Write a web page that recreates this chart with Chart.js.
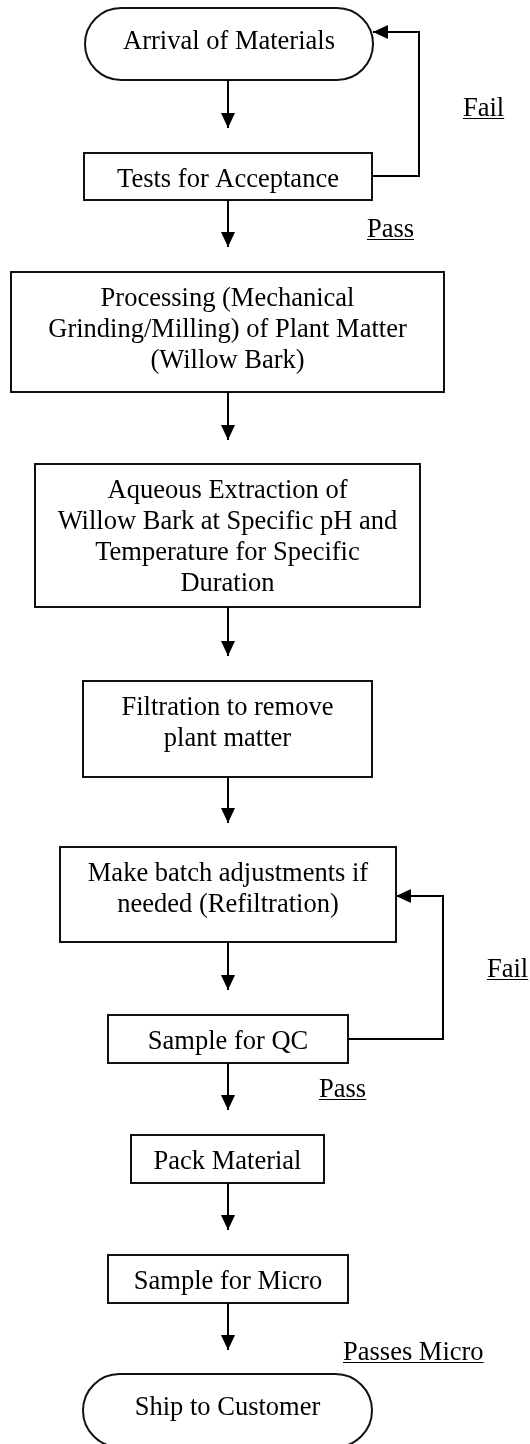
<!DOCTYPE html>
<html>
<head>
<meta charset="utf-8">
<script src="https://cdn.jsdelivr.net/npm/chart.js@4.4.1/dist/chart.umd.min.js"></script>
<style>
  html, body { margin: 0; padding: 0; background: #fff; }
  #wrap { width: 530px; height: 1444px; }
</style>
</head>
<body>
<div id="wrap"><canvas id="flow" width="530" height="1444"></canvas></div>
<script>
// flowchart steps, top to bottom (chart units = picture px)
const nodeText = [
  ['Arrival of Materials'],
  ['Tests for Acceptance'],
  ['Processing (Mechanical', 'Grinding/Milling) of Plant Matter', '(Willow Bark)'],
  ['Aqueous Extraction of', 'Willow Bark at Specific pH and', 'Temperature for Specific', 'Duration'],
  ['Filtration to remove', 'plant matter'],
  ['Make batch adjustments if', 'needed (Refiltration)'],
  ['Sample for QC'],
  ['Pack Material'],
  ['Sample for Micro'],
  ['Ship to Customer']
];
const nodeShape = ['terminal', 'process', 'process', 'process', 'process',
                   'process', 'process', 'process', 'process', 'terminal'];
const nodeLeft   = [85, 84, 11, 35, 83, 60, 108, 131, 108, 83];
const nodeRight  = [373, 372, 444, 420, 372, 396, 348, 324, 348, 372];
const nodeTop    = [8, 153, 272, 464, 681, 847, 1015, 1135, 1255, 1374];
const nodeBottom = [80, 200, 392, 607, 777, 942, 1063, 1183, 1303, 1447];

// connectors: each is a polyline ending in an arrow tip
const spineX = 228;
const spineFrom = [80, 200, 392, 607, 777, 942, 1063, 1183, 1303];
const spineTo   = [128, 247, 440, 656, 823, 990, 1110, 1230, 1350];
const loopFail1 = [{ x: 372, y: 176 }, { x: 419, y: 176 }, { x: 419, y: 32 }, { x: 373, y: 32 }];
const loopFail2 = [{ x: 348, y: 1039 }, { x: 443, y: 1039 }, { x: 443, y: 896 }, { x: 396, y: 896 }];

// branch labels
const branchText = ['Fail', 'Pass', 'Fail', 'Pass', 'Passes Micro'];
const branchX    = [463, 367, 487, 319, 343];
const branchY    = [116, 237, 977, 1097, 1360];

const FONT = '26.5px "Liberation Serif", "Times New Roman", serif';
const INK = '#000';

const connectors = spineFrom.map((y0, i) => [{ x: spineX, y: y0 }, { x: spineX, y: spineTo[i] }]);
connectors.push(loopFail1, loopFail2);

const datasets = connectors.map(pts => ({
  type: 'line',
  data: pts,
  showLine: true,
  borderColor: INK,
  borderWidth: 2,
  pointRadius: 0,
  pointHoverRadius: 0,
  tension: 0,
  fill: false
}));

// boxes + text, drawn under the connectors
const nodesPlugin = {
  id: 'nodes',
  beforeDatasetsDraw(chart) {
    const { ctx, scales: { x, y } } = chart;
    ctx.save();
    ctx.strokeStyle = '#111';
    ctx.lineWidth = 2;
    ctx.fillStyle = INK;
    ctx.font = FONT;
    ctx.textAlign = 'center';
    ctx.textBaseline = 'alphabetic';
    nodeText.forEach((lines, i) => {
      const l = x.getPixelForValue(nodeLeft[i]);
      const r = x.getPixelForValue(nodeRight[i]);
      const t = y.getPixelForValue(nodeTop[i]);
      const b = y.getPixelForValue(nodeBottom[i]);
      ctx.beginPath();
      if (nodeShape[i] === 'terminal') {
        const rad = (b - t) / 2;
        ctx.roundRect(l, t, r - l, b - t, rad);
      } else {
        ctx.rect(l, t, r - l, b - t);
      }
      ctx.stroke();
      const cx = (l + r) / 2;
      const first = t + (nodeShape[i] === 'terminal' ? 41 : 34);
      lines.forEach((s, k) => ctx.fillText(s, cx, first + k * 31));
    });
    // underlined branch labels
    ctx.textAlign = 'left';
    ctx.lineWidth = 1.2;
    ctx.strokeStyle = INK;
    branchText.forEach((s, i) => {
      const px = x.getPixelForValue(branchX[i]);
      const py = y.getPixelForValue(branchY[i]);
      ctx.fillText(s, px, py);
      const w = ctx.measureText(s).width;
      ctx.beginPath();
      ctx.moveTo(px, py + 2.5);
      ctx.lineTo(px + w, py + 2.5);
      ctx.stroke();
    });
    ctx.restore();
  }
};

// arrow heads at the last point of every connector
const arrowPlugin = {
  id: 'arrows',
  afterDatasetsDraw(chart) {
    const { ctx } = chart;
    ctx.save();
    ctx.fillStyle = INK;
    chart.data.datasets.forEach((ds, i) => {
      const pts = chart.getDatasetMeta(i).data;
      const tip = pts[pts.length - 1];
      const prev = pts[pts.length - 2];
      const ang = Math.atan2(tip.y - prev.y, tip.x - prev.x);
      const len = 15, half = 7;
      ctx.save();
      ctx.translate(tip.x, tip.y);
      ctx.rotate(ang);
      ctx.beginPath();
      ctx.moveTo(0, 0);
      ctx.lineTo(-len, -half);
      ctx.lineTo(-len, half);
      ctx.closePath();
      ctx.fill();
      ctx.restore();
    });
    ctx.restore();
  }
};

new Chart(document.getElementById('flow'), {
  type: 'scatter',
  data: { datasets },
  options: {
    responsive: false,
    animation: false,
    events: [],
    layout: { padding: 0 },
    scales: {
      x: { type: 'linear', min: 0, max: 530, display: false },
      y: { type: 'linear', min: 0, max: 1444, reverse: true, display: false }
    },
    plugins: { legend: { display: false }, tooltip: { enabled: false } }
  },
  plugins: [nodesPlugin, arrowPlugin]
});
</script>
</body>
</html>
